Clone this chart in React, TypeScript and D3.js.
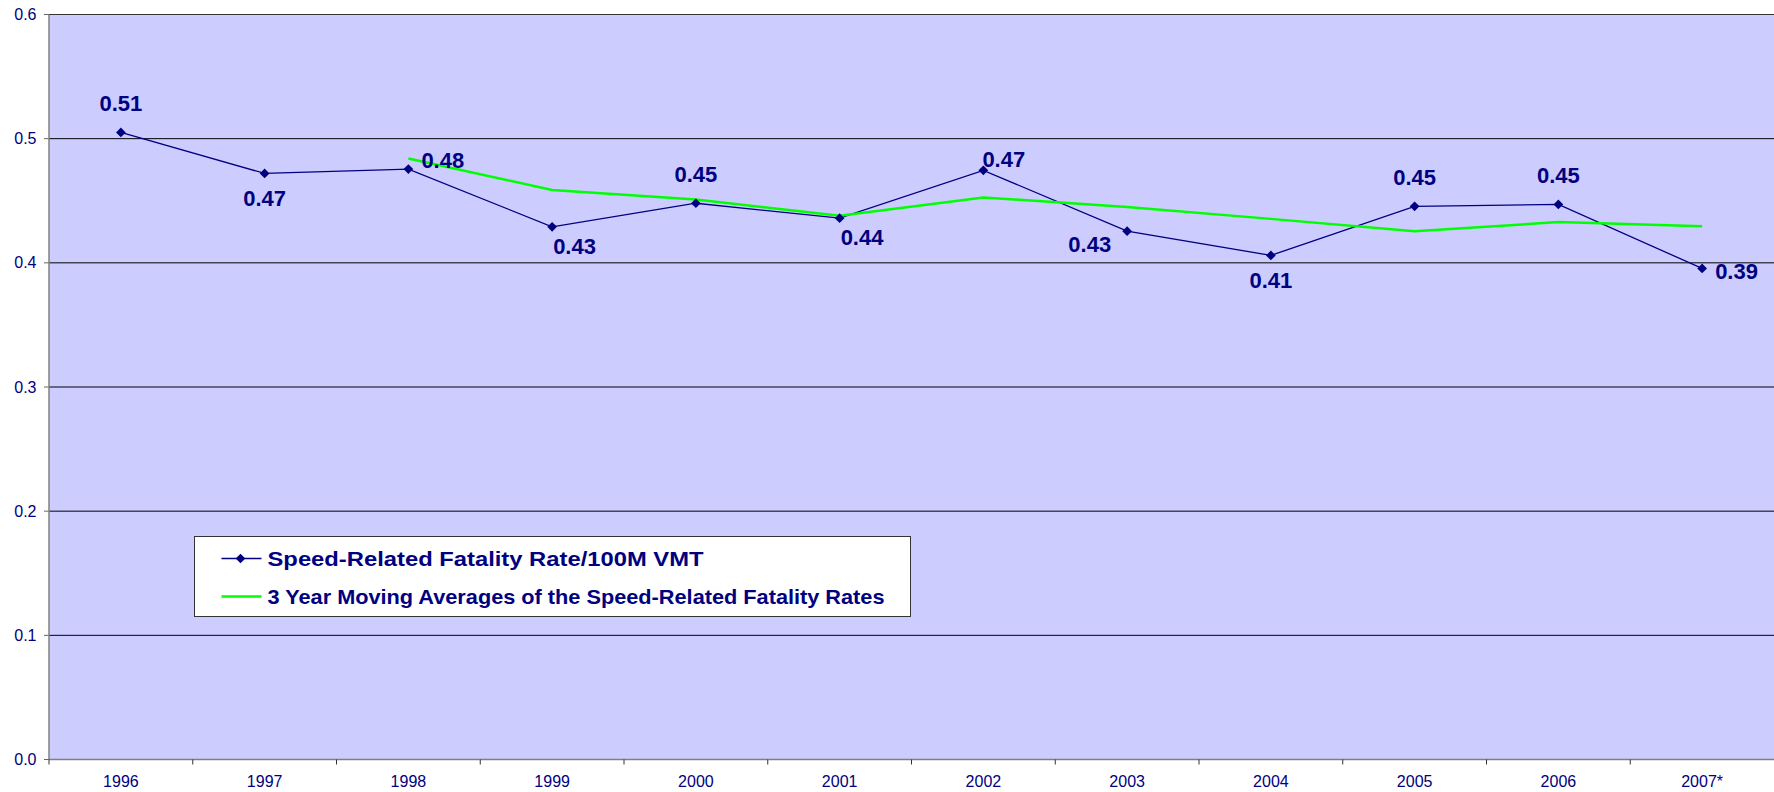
import React, { useEffect } from "react";
import * as d3 from "d3";

const years = ["1996", "1997", "1998", "1999", "2000", "2001", "2002", "2003", "2004", "2005", "2006", "2007*"];
const rates = [0.505, 0.472, 0.4755, 0.429, 0.448, 0.436, 0.4745, 0.4255, 0.406, 0.4455, 0.447, 0.3955];
const rateLabels = ["0.51", "0.47", "0.48", "0.43", "0.45", "0.44", "0.47", "0.43", "0.41", "0.45", "0.45", "0.39"];
// where each data label sits relative to its point
const labelPlace = ["above", "below", "right", "belowStart", "above", "belowStart", "upStart", "left", "below", "above", "above", "rightLow"];
const avgYears = ["1998", "1999", "2000", "2001", "2002", "2003", "2004", "2005", "2006", "2007*"];
const movingAvg = [0.484, 0.4587, 0.451, 0.438, 0.4527, 0.445, 0.4354, 0.4255, 0.4328, 0.4295];
const yTicks = [0, 0.1, 0.2, 0.3, 0.4, 0.5, 0.6];

const legendItems = [
  "Speed-Related Fatality Rate/100M VMT",
  "3 Year Moving Averages of the Speed-Related Fatality Rates",
];

const W = 1774;
const H = 792;
const margin = { top: 14.5, right: 0, bottom: 32.5, left: 49 };
const NAVY = "#000080";
const FONT = "'Liberation Sans', Arial, sans-serif";

function labelAttrs(place: string, x: number, y: number) {
  switch (place) {
    case "above":
      return { x, y: y - 21, anchor: "middle" };
    case "below":
      return { x, y: y + 33, anchor: "middle" };
    case "right":
      return { x: x + 13, y: y - 1, anchor: "start" };
    case "rightLow":
      return { x: x + 13, y: y + 11, anchor: "start" };
    case "belowStart":
      return { x: x + 1, y: y + 27, anchor: "start" };
    case "upStart":
      return { x: x - 1, y: y - 3, anchor: "start" };
    case "left":
      return { x: x - 16, y: y + 21, anchor: "end" };
    default:
      return { x, y, anchor: "middle" };
  }
}

export default function App() {
  useEffect(() => {
    document.body.style.margin = "0";
  }, []);

  const x = d3
    .scaleBand()
    .domain(years)
    .range([margin.left, W - margin.right]);
  const y = d3
    .scaleLinear()
    .domain([0, 0.6])
    .range([H - margin.bottom, margin.top]);
  const cx = (yr: string) => (x(yr) ?? 0) + x.bandwidth() / 2;

  const rateLine = d3
    .line<number>()
    .x((_, i) => cx(years[i]))
    .y((d) => y(d));
  const avgLine = d3
    .line<number>()
    .x((_, i) => cx(avgYears[i]))
    .y((d) => y(d));

  const diamond = d3.symbol().type(d3.symbolDiamond2).size(60)();
  const left = margin.left;
  const right = W - margin.right;
  const bottom = y(0);

  return (
    <svg width={W} height={H} style={{ display: "block" }} fontFamily={FONT}>
      <rect x={left} y={y(0.6)} width={right - left} height={bottom - y(0.6)} fill="#CCCCFF" />

      {/* gridlines + y axis */}
      {yTicks.map((t) => (
        <g key={t}>
          {t > 0 && (
            <line x1={left} x2={right} y1={y(t)} y2={y(t)} stroke={t === 0.6 ? "#333" : "#000"} strokeWidth={1} />
          )}
          <line x1={left - 5} x2={left} y1={y(t)} y2={y(t)} stroke="#666" />
          <text x={36.5} y={y(t) + 5.5} textAnchor="end" fontSize={16} fill={NAVY}>
            {t.toFixed(1)}
          </text>
        </g>
      ))}
      <line x1={left} x2={left} y1={y(0.6)} y2={bottom} stroke="#808080" strokeWidth={1.5} />
      <line x1={left} x2={right} y1={bottom} y2={bottom} stroke="#808080" strokeWidth={1.5} />

      {/* x axis */}
      {years.map((yr) => (
        <g key={yr}>
          <line x1={x(yr)} x2={x(yr)} y1={bottom} y2={bottom + 5} stroke="#333" />
          <text x={cx(yr)} y={787} textAnchor="middle" fontSize={16} fill={NAVY}>
            {yr}
          </text>
        </g>
      ))}

      {/* series */}
      <path d={rateLine(rates) ?? ""} fill="none" stroke={NAVY} strokeWidth={1.3} />
      <path d={avgLine(movingAvg) ?? ""} fill="none" stroke="#00FF00" strokeWidth={2.5} />
      {rates.map((v, i) => (
        <path key={i} d={diamond ?? ""} transform={`translate(${cx(years[i])},${y(v)})`} fill={NAVY} />
      ))}

      {/* data labels */}
      {rates.map((v, i) => {
        const a = labelAttrs(labelPlace[i], cx(years[i]), y(v));
        return (
          <text key={i} x={a.x} y={a.y} textAnchor={a.anchor} fontSize={22} fontWeight="bold" fill={NAVY}>
            {rateLabels[i]}
          </text>
        );
      })}

      {/* legend */}
      <g transform="translate(194.5,536.5)">
        <rect width={716} height={80} fill="#fff" stroke="#333" strokeWidth={1} />
        <line x1={27} x2={67} y1={22} y2={22} stroke={NAVY} strokeWidth={1.3} />
        <path d={diamond ?? ""} transform="translate(46,22)" fill={NAVY} />
        <text x={73} y={29} fontSize={21} fontWeight="bold" fill={NAVY} textLength={436} lengthAdjust="spacingAndGlyphs">
          {legendItems[0]}
        </text>
        <line x1={27} x2={67} y1={60} y2={60} stroke="#00FF00" strokeWidth={2.5} />
        <text x={73} y={67} fontSize={21} fontWeight="bold" fill={NAVY} textLength={617} lengthAdjust="spacingAndGlyphs">
          {legendItems[1]}
        </text>
      </g>
    </svg>
  );
}
